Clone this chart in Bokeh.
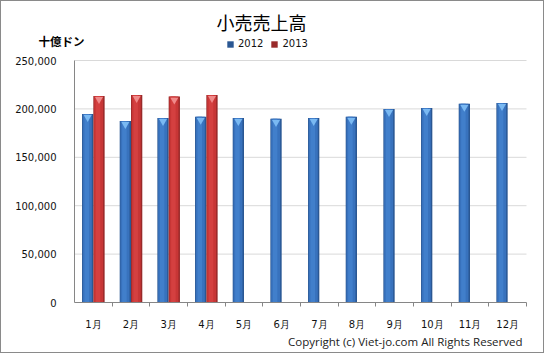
import numpy as np
from bokeh.plotting import figure
from bokeh.models import (Range1d, FixedTicker, NumeralTickFormatter, Label,
                          ColumnDataSource, Legend, LegendItem)
from bokeh.transform import dodge
from bokeh.embed import file_html
from bokeh.resources import INLINE

# ---- data ----
months = ["1月", "2月", "3月", "4月", "5月", "6月", "7月", "8月", "9月", "10月", "11月", "12月"]
sales_2012 = [194800, 187600, 190700, 191800, 190700, 189700, 190700, 191800, 200000, 201000, 205200, 206200]
sales_2013 = [213400, 214400, 212700, 214400]
series_names = ["2012", "2013"]
y_ticks = [0, 50000, 100000, 150000, 200000, 250000]
title_text = "小売売上高"
unit_text = "十億ドン"
copyright_text = "Copyright (c) Viet-jo.com  All Rights Reserved"

n = len(months)
ymax = y_ticks[-1]
pos = np.arange(n) + 0.5
src12 = ColumnDataSource(dict(x=pos, y=sales_2012))
src13 = ColumnDataSource(dict(x=pos[:len(sales_2013)], y=sales_2013))

# ---- layout (pixels inside the figure) ----
W, H = 544, 353
PL, PR, PT, PB = 73, 19, 59, 52          # plot area margins
xpp = n / (W - PL - PR)                  # data units per pixel
ypp = ymax / (H - PT - PB)

def fx(px):   # figure pixel -> data x
    return (px - PL) * xpp

def fy(py):   # figure pixel -> data y
    return (H - PB - py) * ypp

p = figure(width=W, height=H, output_backend="svg", toolbar_location=None,
           x_range=Range1d(fx(0), fx(W)), y_range=Range1d(fy(H), fy(0)),
           min_border=0)
p.styles = {"border": "1px solid #8a8a8a"}
p.outline_line_color = None
p.background_fill_color = "white"
p.border_fill_color = "white"
p.xgrid.grid_line_color = None
p.ygrid.grid_line_color = None

# horizontal gridlines across the plot area
p.segment(x0=0, x1=n, y0=y_ticks[1:], y1=y_ticks[1:], line_color="#d9d9d9", line_width=1)

# axes
xa = p.xaxis[0]
xa.fixed_location = 0
xa.bounds = (0, n)
xa.ticker = FixedTicker(ticks=list(pos), minor_ticks=list(range(1, n + 1)))
xa.major_label_overrides = {float(v): m for v, m in zip(pos, months)}
xa.major_tick_out = 0
xa.major_tick_in = 0
xa.minor_tick_out = 4
xa.minor_tick_in = 0
xa.minor_tick_line_color = "#868686"
xa.axis_line_color = "#868686"
xa.major_label_standoff = 12
xa.major_label_text_font = "DejaVu Sans"
xa.major_label_text_font_size = "10px"
xa.major_label_text_color = "#111111"

ya = p.yaxis[0]
ya.fixed_location = 0
ya.bounds = (0, ymax)
ya.ticker = FixedTicker(ticks=y_ticks)
ya.formatter = NumeralTickFormatter(format="0,0")
ya.major_tick_out = 0
ya.major_tick_in = 0
ya.minor_tick_out = 0
ya.minor_tick_in = 0
ya.axis_line_color = "#868686"
ya.major_label_standoff = 18
ya.major_label_text_font = "DejaVu Sans"
ya.major_label_text_font_size = "10px"
ya.major_label_text_color = "#111111"

# bars with layered shading
def bars(src, off, dark, mid, light, tri):
    r = p.vbar(x=dodge("x", off, range=p.x_range), top="y", width=0.3, source=src,
               fill_color=dark, line_color=None)
    p.vbar(x=dodge("x", off - 0.01, range=p.x_range), top="y", width=0.24, source=src,
           fill_color=mid, line_color=None)
    p.vbar(x=dodge("x", off - 0.025, range=p.x_range), top="y", width=0.12, source=src,
           fill_color=light, line_color=None)
    p.scatter(x=dodge("x", off, range=p.x_range), y=dodge("y", -3500), source=src,
              marker="inverted_triangle", size=8, fill_color=tri, line_color=None)
    return r

r12 = bars(src12, -0.15, "#2a5793", "#3872bd", "#417fcb", "#7ab9f2")
r13 = bars(src13, 0.15, "#992a2a", "#c73636", "#d44040", "#f08a8a")

legend = Legend(items=[LegendItem(label=series_names[0], renderers=[r12]),
                       LegendItem(label=series_names[1], renderers=[r13])],
                orientation="horizontal", location=(225, H - 48),
                glyph_width=8, glyph_height=8, label_height=8, label_standoff=4,
                spacing=7, padding=0, margin=0, border_line_color=None,
                background_fill_alpha=0,
                label_text_font="DejaVu Sans", label_text_font_size="10px",
                label_text_color="#111111")
p.add_layout(legend, "center")

# texts
p.add_layout(Label(x=fx(260), y=fy(20), text=title_text,
                   text_align="center", text_baseline="middle",
                   text_font="Noto Sans CJK JP", text_font_size="18px", text_color="#000000"))
p.add_layout(Label(x=fx(37), y=fy(39), text=unit_text,
                   text_align="left", text_baseline="middle", text_font_style="bold",
                   text_font="Noto Sans CJK JP", text_font_size="11.5px", text_color="#000000"))
p.add_layout(Label(x=fx(524), y=fy(340), text=copyright_text,
                   text_align="right", text_baseline="middle",
                   text_font="Open Sans", text_font_size="11.5px", text_color="#222222"))

open("out.html", "w").write(file_html(p, INLINE))
